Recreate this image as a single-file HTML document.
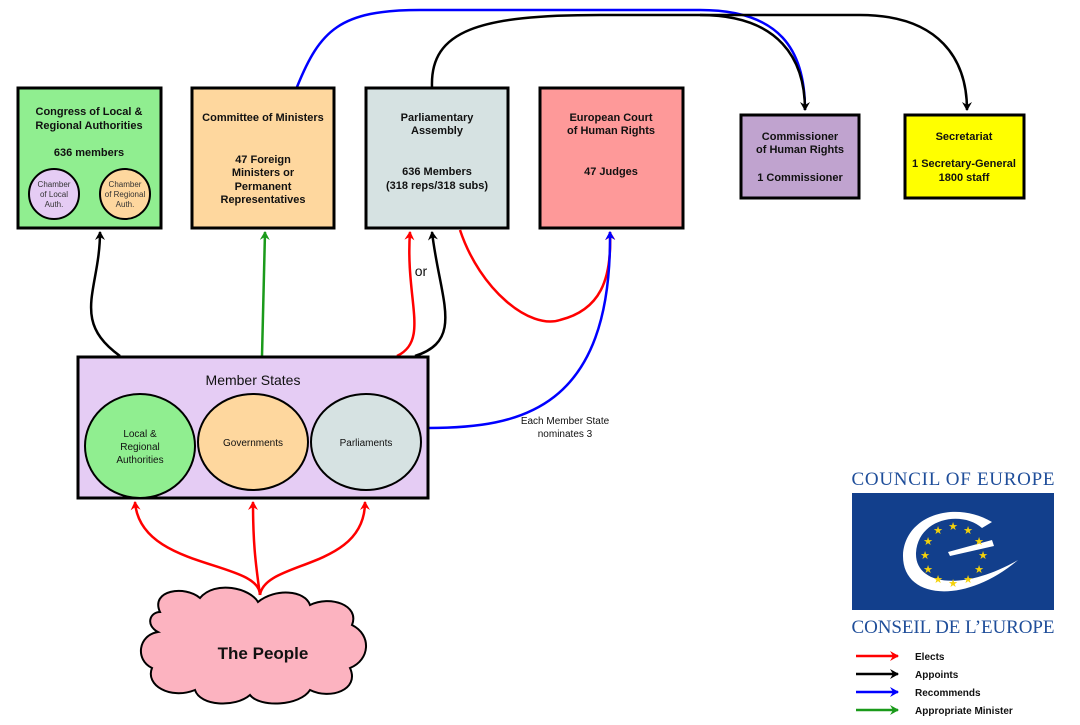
<!DOCTYPE html>
<html><head><meta charset="utf-8"><style>
html,body{margin:0;padding:0;background:#fff}
svg{display:block;font-family:"Liberation Sans",Arial,sans-serif}
.b{font-weight:bold;font-size:11px;fill:#111}
</style></head><body>
<svg width="1080" height="725" viewBox="0 0 1080 725" xmlns="http://www.w3.org/2000/svg">
<defs>
<marker id="ak" markerWidth="10" markerHeight="10" refX="8" refY="5" orient="auto" markerUnits="userSpaceOnUse"><path d="M0,0 L9,5 L0,10 L3,5z" fill="#000"/></marker>
<marker id="ar" markerWidth="10" markerHeight="10" refX="8" refY="5" orient="auto" markerUnits="userSpaceOnUse"><path d="M0,0 L9,5 L0,10 L3,5z" fill="#f00"/></marker>
<marker id="ag" markerWidth="10" markerHeight="10" refX="8" refY="5" orient="auto" markerUnits="userSpaceOnUse"><path d="M0,0 L9,5 L0,10 L3,5z" fill="#1a9a1a"/></marker>
<marker id="ab" markerWidth="10" markerHeight="10" refX="8" refY="5" orient="auto" markerUnits="userSpaceOnUse"><path d="M0,0 L9,5 L0,10 L3,5z" fill="#00f"/></marker>
</defs>
<g fill="none" stroke-width="2.5">
<path d="M297,87 C320,30 340,10 420,10 L700,10 C780,10 805,50 805,110" stroke="#00f" marker-end="url(#ak)"/>
<path d="M432,87 C430,30 480,15 600,15 L860,15 C940,15 967,60 967,110" stroke="#000" marker-end="url(#ak)"/>
<path d="M700,15 C780,15 805,60 805,110" stroke="#000"/>
<path d="M120,356 C70,320 100,290 100,232" stroke="#000" marker-end="url(#ak)"/>
<path d="M262,356 L265,232" stroke="#1a9a1a" marker-end="url(#ag)"/>
<path d="M397,356 C430,340 405,300 410,232" stroke="#f00" marker-end="url(#ar)"/>
<path d="M415,356 C465,340 440,300 432,232" stroke="#000" marker-end="url(#ak)"/>
<path d="M460,230 C480,290 530,330 560,320 C600,310 612,280 610,232" stroke="#f00" marker-end="url(#ar)"/>
<path d="M428,428 C520,428 612,410 610,232" stroke="#00f" marker-end="url(#ab)"/>
<path d="M260,595 C260,560 140,570 135,502" stroke="#f00" marker-end="url(#ar)"/>
<path d="M260,595 C255,560 253,540 253,502" stroke="#f00" marker-end="url(#ar)"/>
<path d="M260,595 C265,560 365,570 365,502" stroke="#f00" marker-end="url(#ar)"/>
</g>
<g stroke="#000" stroke-width="3">
<rect x="18" y="88" width="143" height="140" fill="#90ee90"/>
<rect x="192" y="88" width="142" height="140" fill="#fed79e"/>
<rect x="366" y="88" width="142" height="140" fill="#d6e2e2"/>
<rect x="540" y="88" width="143" height="140" fill="#fe9999"/>
<rect x="741" y="115" width="118" height="83" fill="#c0a3cf"/>
<rect x="905" y="115" width="119" height="83" fill="#ffff00"/>
<rect x="78" y="357" width="350" height="141" fill="#e5ccf4"/>
</g>
<g stroke="#000" stroke-width="2">
<circle cx="54" cy="194" r="25" fill="#e5ccf4"/>
<circle cx="125" cy="194" r="25" fill="#fed79e"/>
<ellipse cx="140" cy="446" rx="55" ry="52" fill="#90ee90"/>
<ellipse cx="253" cy="442" rx="55" ry="48" fill="#fed79e"/>
<ellipse cx="366" cy="442" rx="55" ry="48" fill="#d6e2e2"/>
<path d="M160,612 C150,590 185,585 200,598 C215,580 250,588 258,602 C275,588 305,590 310,605 C330,595 360,605 352,625 C372,635 370,660 350,668 C360,690 330,700 310,690 C300,706 260,708 250,695 C235,708 200,706 195,690 C170,700 145,685 152,668 C135,660 138,635 158,632 C145,625 150,612 160,612Z" fill="#fcb3c0"/>
</g>
<g text-anchor="middle" class="b">
<text x="89" y="115">Congress of Local &amp;</text>
<text x="89" y="129">Regional Authorities</text>
<text x="89" y="156">636 members</text>
<text x="263" y="121">Committee of Ministers</text>
<text x="263" y="163">47 Foreign</text><text x="263" y="176">Ministers or</text><text x="263" y="190">Permanent</text><text x="263" y="203">Representatives</text>
<text x="437" y="121">Parliamentary</text><text x="437" y="134">Assembly</text>
<text x="437" y="175">636 Members</text><text x="437" y="189">(318 reps/318 subs)</text>
<text x="611" y="121">European Court</text><text x="611" y="134">of Human Rights</text>
<text x="611" y="175">47 Judges</text>
<text x="800" y="140">Commissioner</text><text x="800" y="153">of Human Rights</text><text x="800" y="181">1 Commissioner</text>
<text x="964" y="140">Secretariat</text><text x="964" y="167">1 Secretary-General</text><text x="964" y="181">1800 staff</text>
</g>
<g text-anchor="middle" font-size="8" fill="#333">
<text x="54" y="187">Chamber</text><text x="54" y="197">of Local</text><text x="54" y="207">Auth.</text>
<text x="125" y="187">Chamber</text><text x="125" y="197">of Regional</text><text x="125" y="207">Auth.</text>
</g>
<g text-anchor="middle" fill="#111">
<text x="253" y="385" font-size="14">Member States</text>
<text x="140" y="437" font-size="10">Local &amp;</text><text x="140" y="450" font-size="10">Regional</text><text x="140" y="463" font-size="10">Authorities</text>
<text x="253" y="446" font-size="10">Governments</text>
<text x="366" y="446" font-size="10">Parliaments</text>
<text x="421" y="276" font-size="14">or</text>
<text x="565" y="424" font-size="10">Each Member State</text><text x="565" y="437" font-size="10">nominates 3</text>
<text x="263" y="659" font-size="17" font-weight="bold">The People</text>
</g>
<text x="953" y="485" font-size="19" fill="#1f4e9a" text-anchor="middle" font-family="Liberation Serif,serif" textLength="203">COUNCIL OF EUROPE</text>
<rect x="852" y="493" width="202" height="117" fill="#123f8c"/>
<path d="M992,522 C955,500 905,515 903,555 C902,600 965,605 1018,560 C962,592 915,585 916,553 C918,518 962,510 982,528 Z" fill="#fff"/>
<path d="M948,552 L992,540 L994,546 L950,556Z" fill="#fff"/>
<g fill="#f5d20a" font-size="11" text-anchor="middle">
<text x="953" y="530">★</text><text x="938" y="534">★</text><text x="968" y="534">★</text><text x="928" y="545">★</text><text x="979" y="545">★</text><text x="925" y="559">★</text><text x="983" y="559">★</text><text x="928" y="573">★</text><text x="979" y="573">★</text><text x="938" y="583">★</text><text x="968" y="583">★</text><text x="953" y="587">★</text>
</g>
<text x="953" y="633" font-size="19" fill="#1f4e9a" text-anchor="middle" font-family="Liberation Serif,serif" textLength="203">CONSEIL DE L’EUROPE</text>
<g stroke-width="2.5">
<line x1="856" y1="656" x2="898" y2="656" stroke="#f00" marker-end="url(#ar)"/>
<line x1="856" y1="674" x2="898" y2="674" stroke="#000" marker-end="url(#ak)"/>
<line x1="856" y1="692" x2="898" y2="692" stroke="#00f" marker-end="url(#ab)"/>
<line x1="856" y1="710" x2="898" y2="710" stroke="#1a9a1a" marker-end="url(#ag)"/>
</g>
<g font-size="10" font-weight="bold" fill="#111">
<text x="915" y="660">Elects</text><text x="915" y="678">Appoints</text><text x="915" y="696">Recommends</text><text x="915" y="714">Appropriate Minister</text>
</g>
</svg>
</body></html>
